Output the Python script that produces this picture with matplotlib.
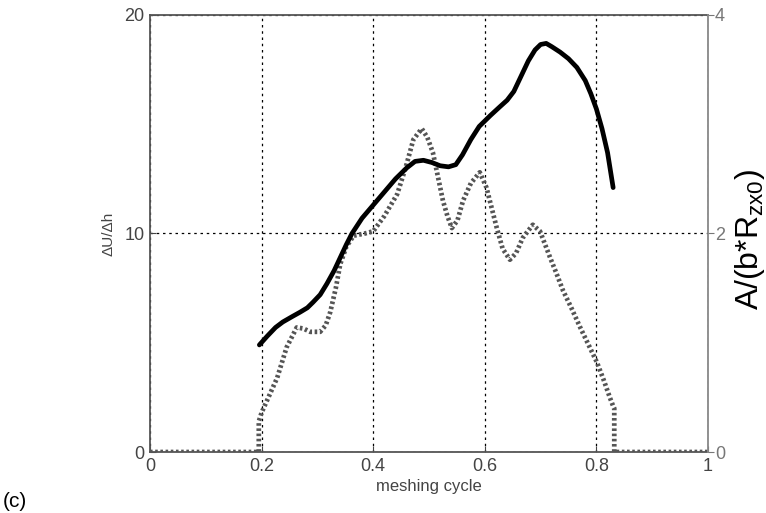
import numpy as np
import matplotlib
matplotlib.use("Agg")
import matplotlib.pyplot as plt

plt.rcParams["font.family"] = ["Liberation Sans", "DejaVu Sans"]

# Energy ratio over the meshing cycle (left axis scale)
cycle_solid = [0.196, 0.210, 0.225, 0.238, 0.255, 0.269, 0.282, 0.292, 0.305, 0.317,
               0.330, 0.341, 0.352, 0.362, 0.380, 0.400, 0.420, 0.440, 0.460, 0.475,
               0.490, 0.505, 0.520, 0.535, 0.548, 0.560, 0.575, 0.590, 0.610, 0.627,
               0.640, 0.652, 0.665, 0.678, 0.690, 0.700, 0.710, 0.720, 0.735, 0.750,
               0.765, 0.780, 0.790, 0.800, 0.810, 0.820, 0.830]
du_dh = [4.9, 5.3, 5.7, 5.95, 6.2, 6.4, 6.6, 6.85, 7.2, 7.7,
         8.3, 8.9, 9.5, 10.0, 10.7, 11.3, 11.9, 12.5, 13.0, 13.3,
         13.35, 13.25, 13.1, 13.05, 13.15, 13.6, 14.3, 14.9, 15.4, 15.8,
         16.1, 16.5, 17.2, 17.9, 18.4, 18.65, 18.7, 18.55, 18.3, 18.0,
         17.6, 17.0, 16.4, 15.7, 14.8, 13.7, 12.1]

# Normalised area ratio (right axis), stored on the left-axis scale (x5)
cycle_dot = [0.0, 0.195, 0.195, 0.200, 0.214, 0.228, 0.245, 0.263, 0.275, 0.287,
             0.305, 0.315, 0.323, 0.333, 0.341, 0.352, 0.365, 0.385, 0.400, 0.420,
             0.443, 0.458, 0.472, 0.487, 0.497, 0.507, 0.516, 0.525, 0.533, 0.541,
             0.551, 0.561, 0.575, 0.591, 0.603, 0.613, 0.621, 0.632, 0.645, 0.656,
             0.668, 0.686, 0.699, 0.708, 0.717, 0.728, 0.740, 0.755, 0.771, 0.786,
             0.801, 0.813, 0.824, 0.830, 0.832, 0.832, 1.0]
area_ratio = [0.0, 0.0, 1.4, 1.8, 2.6, 3.4, 4.8, 5.7, 5.65, 5.5,
              5.5, 5.8, 6.4, 7.5, 8.6, 9.4, 9.9, 10.0, 10.1, 10.8,
              11.8, 13.0, 14.3, 14.8, 14.4, 13.7, 12.6, 11.5, 10.8, 10.25,
              10.6, 11.5, 12.3, 12.8, 12.1, 11.1, 10.3, 9.3, 8.8, 9.1,
              9.8, 10.4, 10.1, 9.5, 8.9, 8.2, 7.4, 6.6, 5.7, 4.9,
              4.1, 3.3, 2.5, 2.1, 2.0, 0.0, 0.0]

x_ticks = [0, 0.2, 0.4, 0.6, 0.8, 1]
x_tick_labels = ["0", "0.2", "0.4", "0.6", "0.8", "1"]
left_ticks = [0, 10, 20]
right_ticks = [0, 2, 4]

fig = plt.figure(figsize=(7.66, 5.13), dpi=100)
ax = fig.add_axes([0.1958, 0.1189, 0.7285, 0.8519])

ax.plot(cycle_dot, area_ratio, color="#555555", lw=3.4, ls=(0, (0.55, 0.55)),
        solid_joinstyle="round", zorder=3)
ax.plot(cycle_solid, du_dh, color="black", lw=3.4, solid_capstyle="round",
        solid_joinstyle="round", zorder=4)

ax.set_xlim(0, 1)
ax.set_ylim(0, 20)
ax.set_xticks(x_ticks)
ax.set_xticklabels(x_tick_labels)
ax.set_yticks(left_ticks)
ax.grid(True, color="black", ls=(0, (2, 3)), lw=0.9)
ax.tick_params(direction="in", length=4, labelsize=13, colors="#444444", pad=4)
for s in ["top", "left", "bottom"]:
    ax.spines[s].set_color("#555555")
    ax.spines[s].set_linewidth(1.3)
ax.spines["right"].set_visible(False)
ax.set_xlabel("meshing cycle", fontsize=12, color="#444444", labelpad=3)
ax.set_ylabel("\u0394U/\u0394h", fontsize=11, color="#444444", labelpad=6)

ax2 = ax.twinx()
ax2.set_ylim(0, 4)
ax2.set_yticks(right_ticks)
ax2.tick_params(direction="out", length=4, labelsize=13, colors="#777777", pad=1)
for s in ["top", "left", "bottom"]:
    ax2.spines[s].set_visible(False)
ax2.spines["right"].set_color("#888888")
ax2.spines["right"].set_linewidth(1.3)
ax2.set_ylabel("A/(b*R$_{\\mathregular{zx0}}$)", fontsize=23, color="black")
ax2.yaxis.set_label_coords(1.045, 0.487)

fig.text(0.003, 0.012, "(c)", fontsize=15, color="black")

fig.savefig("out.png", dpi=100)
